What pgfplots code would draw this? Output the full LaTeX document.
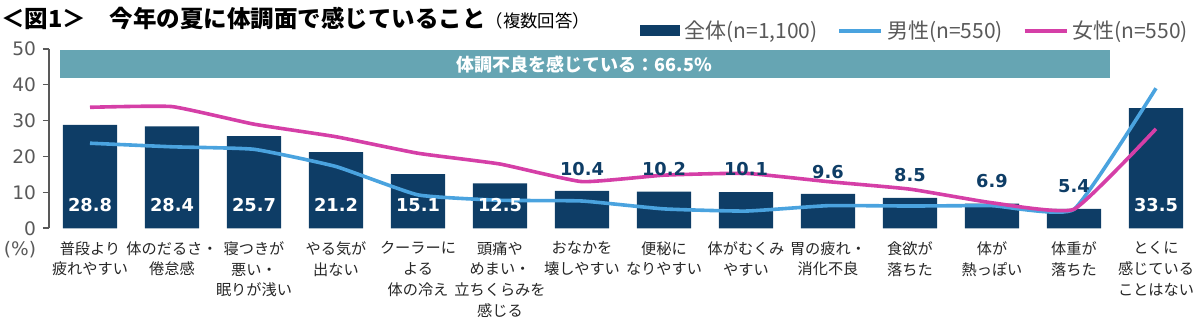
\documentclass[border=0pt]{standalone}
\usepackage{fontspec}
\setmainfont{Noto Sans CJK JP}
\newfontfamily\numfont{DejaVu Sans}
\usepackage{pgfplots}
\pgfplotsset{compat=1.18}
\definecolor{navy}{HTML}{0E3D66}
\definecolor{mblue}{HTML}{4AA3DF}
\definecolor{fpink}{HTML}{D53FA7}
\definecolor{banner}{HTML}{66A5B3}
\definecolor{txtgray}{HTML}{595959}
\definecolor{lbl}{HTML}{262626}
\begin{document}
\begin{tikzpicture}
\useasboundingbox (-24.5pt,-47.85pt) rectangle (575.5pt,114.15pt);
\node[anchor=west,inner sep=0pt] at (-24pt,105pt) {{\bfseries\fontsize{11.75}{13}\selectfont ＜図1＞　今年の夏に体調面で感じていること}{\fontsize{8.7}{10}\selectfont（複数回答）}};
\begin{axis}[
  at={(0,0)}, anchor=south west, scale only axis,
  width=574pt, height=89.75pt,
  xmin=-0.5, xmax=13.5, ymin=0, ymax=50,
  axis lines*=left,
  x axis line style={draw=none},
  y axis line style={draw=txtgray, line width=0.8pt},
  ytick={0,10,20,30,40,50},
  tick align=outside, major tick length=3pt,
  ytick style={draw=txtgray, line width=0.8pt},
  xtick style={draw=none},
  xtick={0,...,13},
  xticklabels={{普段より\\疲れやすい},{体のだるさ・\\倦怠感},{寝つきが\\悪い・\\眠りが浅い},{やる気が\\出ない},{クーラーに\\よる\\体の冷え},{頭痛や\\めまい・\\立ちくらみを\\感じる},{おなかを\\壊しやすい},{便秘に\\なりやすい},{体がむくみ\\やすい},{胃の疲れ・\\消化不良},{食欲が\\落ちた},{体が\\熱っぽい},{体重が\\落ちた},{とくに\\感じている\\ことはない}},
  xticklabel style={align=center, font=\fontsize{7.6}{10.4}\selectfont, text=lbl},
  yticklabel style={font=\numfont\fontsize{9.3}{10}\selectfont, text=txtgray},
  /pgf/number format/assume math mode=true,
  clip=false,
  legend columns=3,
  legend style={draw=none, fill=none, at={(0.996,1.1)}, anchor=east, inner sep=0pt,
    font=\fontsize{10.5}{12}\selectfont, text=txtgray,
    /tikz/every even column/.append style={column sep=8pt}},
]
\fill[banner] (axis cs:-0.37,41.8) rectangle (axis cs:12.44,49.6);
\node[text=white, font=\bfseries\fontsize{9}{11}\selectfont] at (axis cs:6.03,45.7) {体調不良を感じている：66.5\%};

\addplot[ybar, bar width=0.66, fill=navy, draw=none,
  legend image code/.code={\fill[navy] (0pt,-2.75pt) rectangle (20pt,2.75pt);}]
  coordinates {(0,28.8) (1,28.4) (2,25.7) (3,21.2) (4,15.1) (5,12.5) (6,10.4) (7,10.2) (8,10.1) (9,9.6) (10,8.5) (11,6.9) (12,5.4) (13,33.5)};
\addlegendentry{全体(n=1,100)}

\addplot[mblue, line width=1.8pt, smooth, tension=0.25, mark=none,
  legend image code/.code={\draw[mblue, line width=1.8pt] (0pt,0pt) -- (21pt,0pt);}]
  coordinates {(0,23.7) (1,22.7) (2,22.0) (3,17.2) (4,9.3) (5,7.8) (6,7.6) (7,5.4) (8,4.8) (9,6.3) (10,6.2) (11,6.3) (12,5.3) (13,39.0)};
\addlegendentry{男性(n=550)}

\addplot[fpink, line width=1.8pt, smooth, tension=0.25, mark=none,
  legend image code/.code={\draw[fpink, line width=1.8pt] (0pt,0pt) -- (21pt,0pt);}]
  coordinates {(0,33.7) (1,33.9) (2,29.0) (3,25.5) (4,20.9) (5,17.9) (6,13.0) (7,14.8) (8,15.3) (9,13.0) (10,10.9) (11,7.1) (12,5.3) (13,27.7)};
\addlegendentry{女性(n=550)}

\addplot[forget plot, only marks, mark=none, nodes near coords, point meta=explicit symbolic,
  nodes near coords align=center,
  every node near coord/.append style={text=white, font=\numfont\bfseries\fontsize{8.9}{10}\selectfont}]
  table[meta=lab] {
x y lab
0 6.5 28.8
1 6.5 28.4
2 6.5 25.7
3 6.5 21.2
4 6.5 15.1
5 6.5 12.5
13 6.5 33.5
};
\addplot[forget plot, only marks, mark=none, nodes near coords, point meta=explicit symbolic,
  nodes near coords align=center,
  every node near coord/.append style={text=navy, font=\numfont\bfseries\fontsize{8.9}{10}\selectfont}]
  table[meta=lab] {
x y lab
6 16.4 10.4
7 16.4 10.2
8 16.4 10.1
9 15.8 9.6
10 14.8 8.5
11 13.3 6.9
12 11.8 5.4
};
\node[text=txtgray, font=\numfont\fontsize{9.3}{10}\selectfont] at (rel axis cs:-0.0252,-0.12) {(\%)};
\end{axis}
\end{tikzpicture}
\end{document}
